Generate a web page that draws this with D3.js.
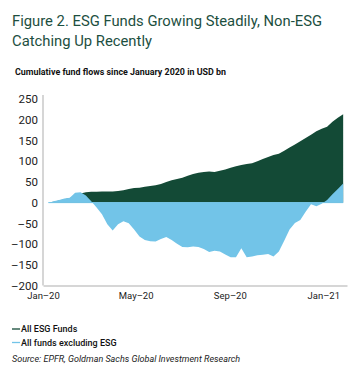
<!DOCTYPE html>
<html><head><meta charset="utf-8">
<script src="https://cdn.jsdelivr.net/npm/d3@7"></script>
<style>
html,body{margin:0;padding:0;background:#fff;}
svg{display:block;font-family:Roboto, "Noto Sans", sans-serif;}
</style></head>
<body>
<svg id="c" width="360" height="369"></svg>
<script>
// ---- data ----
const startDate = "2020-01-08"; // weekly observations
const esgFunds = [0,2,5,8,11,15,22,25,26,26,27,27,27,28,30,33,35,36,38,40,42,45,50,54,57,60,65,69,72,74,75,74,77,80,84,88,91,93,95,100,105,110,115,118,125,133,140,148,156,164,172,178,183,195,205,213];
const nonEsgFunds = [-1,3,6,10,12,24,25,17,3,-12,-28,-52,-67,-52,-45,-50,-65,-82,-90,-93,-94,-88,-83,-90,-99,-107,-108,-106,-107,-112,-119,-116,-118,-125,-132,-132,-110,-132,-130,-127,-126,-124,-130,-118,-92,-65,-49,-42,-22,-4,-9,-3,6,20,33,46];
const yTicks = [-200,-150,-100,-50,0,50,100,150,200,250];
const xTickDates = ["2020-01-01","2020-05-01","2020-09-01","2021-01-01"];
const xTickLabels = ["Jan\u201320","May\u201320","Sep\u201320","Jan\u201321"];
const seriesNames = ["All ESG Funds","All funds excluding ESG"];
const colors = ["#134a36","#72c4e8"];

const parse = d3.timeParse("%Y-%m-%d");
const t0 = parse(startDate);
const rows = esgFunds.map((v,i)=>({date:d3.timeDay.offset(t0,7*i), esg:v, non:nonEsgFunds[i]}));

const svg = d3.select("#c");
const x = d3.scaleTime().domain([parse("2020-01-01"), parse("2021-02-01")]).range([43,347]);
const y = d3.scaleLinear().domain([-200,250]).range([285.5,99]);

function fit(sel, w){
  const n = sel.node(); const l = n.getComputedTextLength();
  if (Math.abs(l-w) > 2) sel.attr("textLength", w).attr("lengthAdjust","spacingAndGlyphs");
  return sel;
}

// title
fit(svg.append("text").attr("x",12).attr("y",25.5).attr("fill","#1d4f3f").attr("font-size",15.5)
  .text("Figure 2. ESG Funds Growing Steadily, Non-ESG"), 310);
fit(svg.append("text").attr("x",12).attr("y",45.5).attr("fill","#1d4f3f").attr("font-size",15.5)
  .text("Catching Up Recently"), 140);
fit(svg.append("text").attr("x",15).attr("y",75).attr("fill","#111").attr("font-size",8.8).attr("font-weight",700)
  .text("Cumulative fund flows since January 2020 in USD bn"), 211);

// areas
const areaEsg = d3.area().x(d=>x(d.date)).y0(y(0)).y1(d=>y(d.esg));
const areaNon = d3.area().x(d=>x(d.date)).y0(y(0)).y1(d=>y(d.non));
svg.append("path").datum(rows).attr("d",areaEsg).attr("fill",colors[0]);
svg.append("path").datum(rows).attr("d",areaNon).attr("fill",colors[1]);
svg.append("line").attr("x1",x(rows[0].date)).attr("x2",x(rows[rows.length-1].date))
  .attr("y1",y(0)).attr("y2",y(0)).attr("stroke",colors[1]).attr("stroke-width",1);

// axes
const yAxis = svg.append("g").attr("transform","translate(43,0)")
  .call(d3.axisLeft(y).tickValues(yTicks).tickSize(0).tickPadding(5)
    .tickFormat(d=> d<0 ? "\u2013"+Math.abs(d) : String(d)));
yAxis.select(".domain").attr("stroke","#c9c9c9").attr("stroke-width",1.5).attr("d","M0,285.5V95");
yAxis.selectAll("text").attr("font-size",11.5).attr("fill","#222").attr("font-family","Roboto, sans-serif");

const xAxis = svg.append("g").attr("transform","translate(0,285.5)")
  .call(d3.axisBottom(x).tickValues(xTickDates.map(parse)).tickSize(0).tickPadding(7)
    .tickFormat((d,i)=>xTickLabels[i]));
xAxis.select(".domain").attr("stroke","#c9c9c9").attr("stroke-width",1.5);
xAxis.selectAll("text").attr("font-size",9.5).attr("fill","#222").attr("font-family","Roboto, sans-serif");

// legend
const leg = svg.append("g");
seriesNames.forEach((name,i)=>{
  const yy = 329 + i*13.5;
  leg.append("line").attr("x1",12).attr("x2",20).attr("y1",yy).attr("y2",yy).attr("stroke",colors[i]).attr("stroke-width",1.3);
  leg.append("text").attr("x",21).attr("y",yy+3.3).attr("font-size",9).attr("font-weight",500).attr("fill","#111").text(name);
});
fit(svg.append("text").attr("x",12).attr("y",362).attr("font-size",9).attr("font-style","italic").attr("fill","#222")
  .text("Source: EPFR, Goldman Sachs Global Investment Research"), 229);
</script>
</body></html>
